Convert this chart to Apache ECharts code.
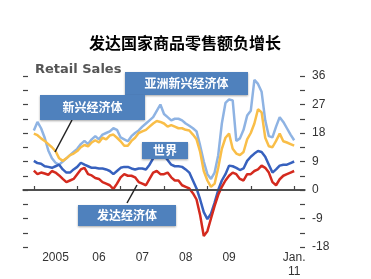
<!DOCTYPE html>
<html>
<head>
<meta charset="utf-8">
<script src="https://cdn.jsdelivr.net/npm/echarts@6/dist/echarts.min.js"></script>
<style>html,body{margin:0;padding:0;background:#fff;}#c{width:371px;height:279px;}</style>
</head>
<body>
<div id="c"></div>
<script>
// Monthly categories: Oct 2004 .. Apr 2011 (axis spans a little beyond the data)
const months = [];
for (let y = 2004, m = 10; !(y === 2011 && m === 5); ) {
  months.push(y + '-' + (m < 10 ? '0' + m : m));
  m++; if (m > 12) { m = 1; y++; }
}
const labelMonths = ['2005-07', '2006-07', '2007-07', '2008-07', '2009-07', '2011-01'];
const labelTexts = ['2005', '06', '07', '08', '09', 'Jan.\n11'];

// Values Jan 2005 .. Jan 2011 (percent, year over year)
const asiaEmerging = [
  18.8,21.5,19.5,16.5,12.5,10,8.6,8,9,10,11,12,
  13,14.5,15.5,14.5,16,17,16,17.5,18,18.5,19.5,19,
  16.6,16,15.4,17,18,18.8,20,21,22,23,25,27,
  24,23,22,22.5,22.5,22,21,20.3,19.5,18.5,14,9,
  5,3.5,5.5,11,21,27.5,28.6,28.3,15.5,16.3,19,23.5,
  25,34.8,33.5,31,22,17,16.6,20,23,21.5,19.5,17.5,
  15.7];
const emerging = [
  17.8,17.3,16.3,15.5,14.5,13.5,12.3,10,9.2,10,11,11.5,
  12.3,13.5,14.2,13.8,15,15.7,15,16.5,16,17.2,17.5,16.5,
  15.4,14,14,15.5,16.5,18,18.5,19,20,21,21.8,21.5,
  21,20,20.5,20,19.5,19.5,19,18.8,17.5,16,12,6,
  3,1,2,7,13,16.5,17.8,13,11.5,11,12,16,
  18,21,25.5,24.5,16.5,13.8,13.5,15.5,17.8,15.4,15,14.5,
  14];
const world = [
  9.2,8.5,8.3,7.5,7.3,7,7.5,8,6.5,5.5,5.5,6.5,
  7.3,8.6,8,7.5,7,7,6.8,6.8,6.5,6,5,6,
  7,7.3,7.3,6.8,6.5,6.8,6.8,6.5,8,10,11.7,12,
  11,9.5,8,7.5,7.5,7.3,6.5,5.5,3,0.5,-3,-7,
  -9.2,-7.5,-4,0,3,5,7.7,7.5,7,6.3,6.8,9.2,
  10.5,11.5,12.3,12,10.5,8,5.5,6.5,7.7,8,8,8.5,
  9];
const advanced = [
  6.1,5,5.5,5.2,4.8,6,5.5,4.6,3.5,2.5,3,3.5,
  5,6.5,7,5,4.6,3.8,3.5,2.5,2,1.5,0.3,2,
  4,5,4.5,4.5,4,2.5,2,1.5,3.5,5.5,6,5,
  5,5.5,4,3,3,1.5,1,0.5,-1,-3,-8,-14.5,
  -13,-9,-5,-1.5,1,3,4.5,5.5,5,3.5,3,5,
  5,6,6.5,7.7,7,5.5,2.5,1.5,3.4,4.5,5,5.5,
  6];

const pad = arr => [null, null, null].concat(arr, [null, null, null]);

const chart = echarts.init(document.getElementById('c'), null, {renderer: 'canvas'});

const yCommon = {
  type: 'value', min: -18, max: 36, interval: 4.5,
  axisLine: {show: false},
  axisTick: {show: true, inside: true, length: 5, lineStyle: {color: '#444', width: 1.2}},
  splitLine: {show: false}
};

const lineSeries = (name, data, color) => ({
  name, type: 'line', data: pad(data), yAxisIndex: 0,
  symbol: 'none', connectNulls: false,
  lineStyle: {color, width: 2.5}, itemStyle: {color},
  animation: false
});

const boxText = {fontSize: 12, fontWeight: 'bold', fontFamily: '"Noto Sans CJK SC"', fill: '#fff',
  align: 'center', verticalAlign: 'middle', textAlign: 'center', textVerticalAlign: 'middle'};
const boxStyle = {fill: '#4F81BD', shadowBlur: 2, shadowColor: 'rgba(0,0,0,0.35)', shadowOffsetY: 1};

const box = (x, y, w, h, text) => [
  {type: 'rect', shape: {x, y, width: w, height: h}, style: boxStyle, z: 50},
  {type: 'text', x: x + w / 2, y: y + h / 2, style: Object.assign({text}, boxText), z: 51}
];

chart.setOption({
  animation: false,
  backgroundColor: '#fff',
  grid: {left: 23, right: 66, top: 76, bottom: 28, containLabel: false},
  xAxis: {
    type: 'category', data: months, boundaryGap: false,
    axisLine: {show: true, lineStyle: {color: '#444', width: 1.5}},
    axisTick: {show: true, inside: true, length: 4, interval: (i, v) => v.slice(5) === '01',
      lineStyle: {color: '#444', width: 1.2}},
    axisLabel: {
      interval: (i, v) => labelMonths.indexOf(v) >= 0,
      formatter: v => { const k = labelMonths.indexOf(v); return k >= 0 ? labelTexts[k] : ''; },
      fontSize: 12, color: '#333', margin: 4, lineHeight: 14, fontFamily: '"Liberation Sans", Arial'
    },
    splitLine: {show: false}
  },
  yAxis: [
    Object.assign({}, yCommon, {position: 'right',
      axisLabel: {formatter: v => (v % 9 === 0 ? String(v) : ''), margin: 7, color: '#333', fontSize: 12,
        fontFamily: '"Liberation Sans", Arial'}}),
    Object.assign({}, yCommon, {position: 'left', axisLabel: {show: false}})
  ],
  series: [
    lineSeries('亚洲新兴经济体', asiaEmerging, '#8EB3E3'),
    lineSeries('新兴经济体', emerging, '#F9BE48'),
    lineSeries('世界', world, '#3761BE'),
    Object.assign(lineSeries('发达经济体', advanced, '#D42A1E'), {
      markLine: {silent: true, symbol: 'none', label: {show: false},
        lineStyle: {color: '#444', type: 'solid', width: 1.5}, data: [{yAxis: 0}]}
    })
  ],
  graphic: [
    {type: 'text', x: 185, y: 43, style: {text: '发达国家商品零售额负增长', fontSize: 16, fontWeight: 'bold',
      fontFamily: '"Noto Sans CJK SC"', fill: '#000', align: 'center', verticalAlign: 'middle',
      textAlign: 'center', textVerticalAlign: 'middle'}},
    {type: 'text', x: 35, y: 70, style: {text: 'Retail Sales', fontSize: 13, fontWeight: 'bold',
      fontFamily: '"DejaVu Sans"', fill: '#555', align: 'left', verticalAlign: 'middle',
      textAlign: 'left', textVerticalAlign: 'middle'}, z: 40},
    {type: 'line', shape: {x1: 72, y1: 120, x2: 55, y2: 152}, style: {stroke: '#222', lineWidth: 1.5}, z: 45},
    {type: 'line', shape: {x1: 127, y1: 203, x2: 137, y2: 185}, style: {stroke: '#222', lineWidth: 1.5}, z: 45}
  ].concat(
    box(125, 72, 123, 23, '亚洲新兴经济体'),
    box(40, 95, 105, 25, '新兴经济体'),
    box(142, 142, 46, 17, '世界'),
    box(78, 205, 98, 21, '发达经济体')
  )
});
</script>
</body>
</html>
